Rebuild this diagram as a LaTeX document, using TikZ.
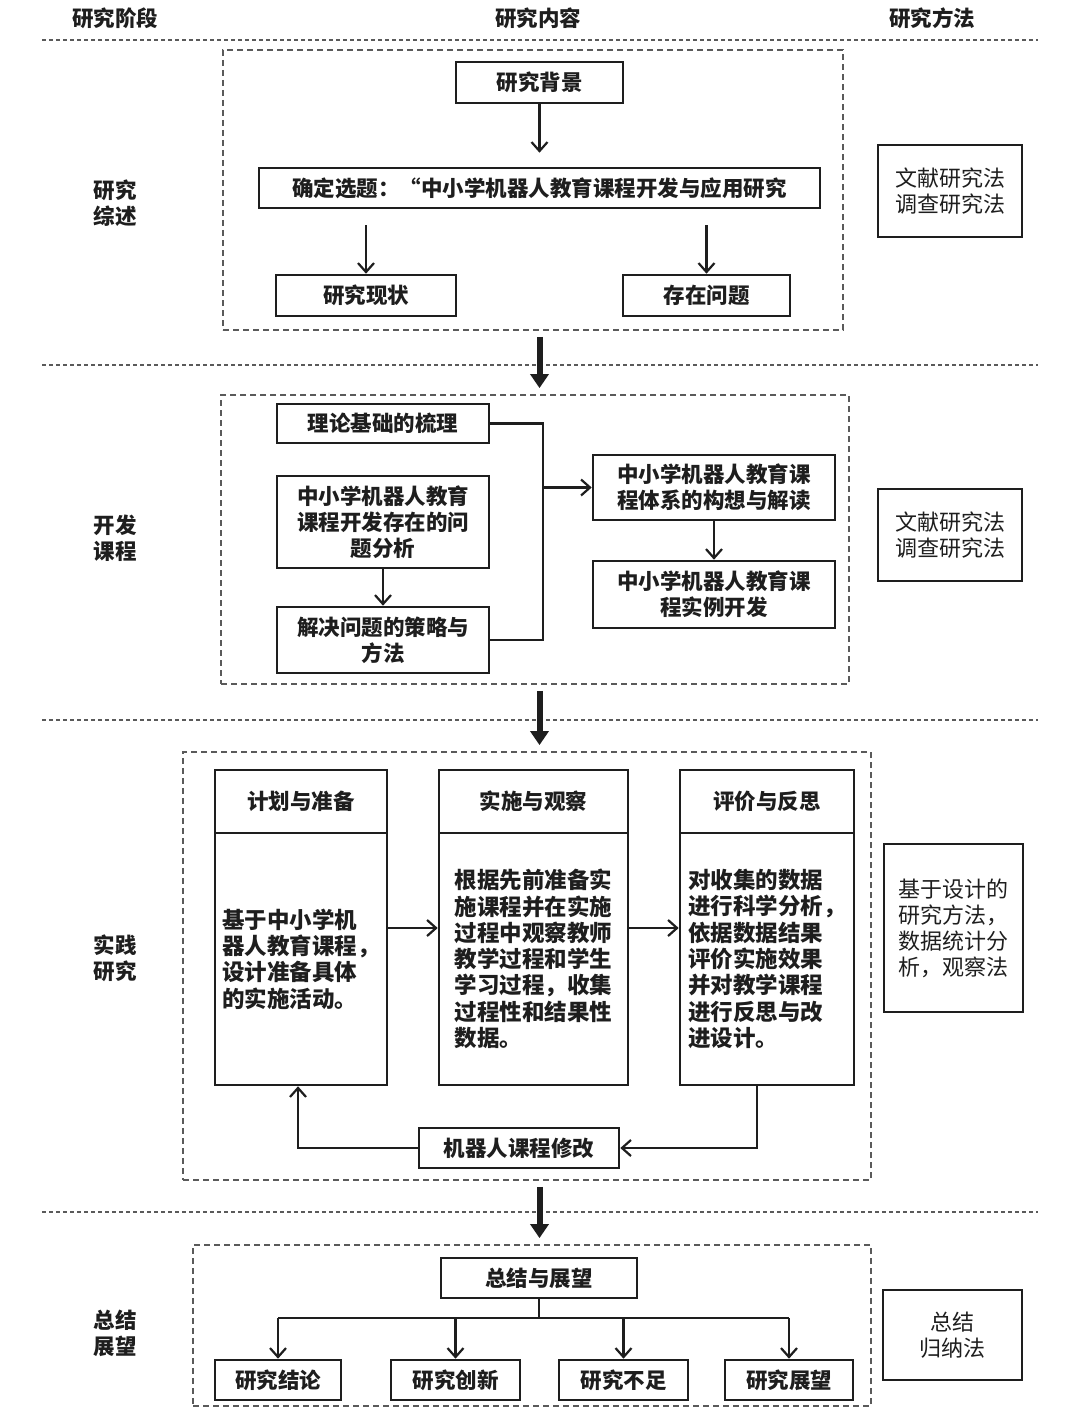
\documentclass[tikz,border=0pt]{standalone}
\usepackage{fontspec}
\setmainfont{Noto Sans CJK SC}
\usetikzlibrary{arrows.meta}
\definecolor{ink}{HTML}{1E1E1E}
\definecolor{frame}{HTML}{5A5A5A}
\tikzset{
  box/.style={draw=ink, line width=2.6pt, inner sep=0pt, align=center, font=\fontsize{21.5}{26}\selectfont\bfseries, text=ink},
  sec/.style={draw=frame, line width=1.8pt, dash pattern=on 6pt off 4pt, inner sep=0pt},
  sep/.style={draw=frame, line width=1.4pt, dash pattern=on 4pt off 3pt},
  arr/.style={draw=ink, line width=2.4pt, -{Straight Barb[length=9pt,width=16pt,line width=2.2pt]}},
  bigarr/.style={draw=ink, line width=6pt, -{Triangle[length=14pt,width=18pt]}},
  conn/.style={draw=ink, line width=2.4pt},
  head/.style={font=\fontsize{21.5}{26}\selectfont\bfseries, text=ink, align=center},
  method/.style={draw=ink, line width=2.4pt, inner sep=0pt, align=center, font=\fontsize{22}{26}\selectfont, text=ink},
  bodytext/.style={font=\fontsize{22.5}{26.3}\selectfont\bfseries, text=ink, align=left},
}
\begin{document}
\begin{tikzpicture}[x=1pt,y=-1pt]
\useasboundingbox[fill=white] (0,0) rectangle (1080,1410);

% headers
\node[head] (h1) at (115,18) {研究阶段};
\node[head] (h2) at (538,18) {研究内容};
\node[head] (h3) at (932,18) {研究方法};
\coordinate (l1a) at (42,40);   \coordinate (l1b) at (1038,40);
\coordinate (l2a) at (42,365);  \coordinate (l2b) at (1038,365);
\coordinate (l3a) at (42,720);  \coordinate (l3b) at (1038,720);
\coordinate (l4a) at (42,1212); \coordinate (l4b) at (1038,1212);
\draw[sep] (l1a) -- (l1b);
\draw[sep] (l2a) -- (l2b);
\draw[sep] (l3a) -- (l3b);
\draw[sep] (l4a) -- (l4b);

% stage labels
\node[head] (st1) at (115,203) {研究\\综述};
\node[head] (st2) at (115,538) {开发\\课程};
\node[head] (st3) at (115,958) {实践\\研究};
\node[head] (st4) at (115,1333) {总结\\展望};

% method boxes
\node[method, minimum width=144, minimum height=92] (m1) at (950,191) {文献研究法\\调查研究法};
\node[method, minimum width=144, minimum height=92] (m2) at (950,535) {文献研究法\\调查研究法};
\node[method, minimum width=139, minimum height=168, align=left] (m3) at (953.5,928) {基于设计的\\研究方法，\\数据统计分\\析，观察法};
\node[method, minimum width=139, minimum height=90] (m4) at (952.5,1335) {总结\\归纳法};

% section frames
\node[sec, minimum width=620, minimum height=280] (s1) at (533,190) {};
\node[sec, minimum width=628, minimum height=289] (s2) at (535,539.5) {};
\node[sec, minimum width=688, minimum height=428] (s3) at (527,966) {};
\node[sec, minimum width=678, minimum height=161] (s4) at (532,1325.5) {};

% section 1
\node[box, minimum width=167, minimum height=41] (bg) at (539.5,82.5) {研究背景};
\node[box, minimum width=561, minimum height=40] (topic) at (539.5,188) {确定选题：“中小学机器人教育课程开发与应用研究};
\node[box, minimum width=180, minimum height=41] (now) at (366,295.5) {研究现状};
\node[box, minimum width=167, minimum height=41] (prob) at (706.5,295.5) {存在问题};
\draw[arr, shorten >=14pt] (bg) -- (topic);
\draw[arr, shorten <=16pt] (topic.south -| now) -- (now.north);
\draw[arr, shorten <=16pt] (topic.south -| prob) -- (prob.north);

% section 2
\node[box, minimum width=212, minimum height=39] (theo) at (383,423.5) {理论基础的梳理};
\node[box, minimum width=212, minimum height=92] (ana) at (383,522) {中小学机器人教育\\课程开发存在的问\\题分析};
\node[box, minimum width=212, minimum height=66] (sol) at (383,640) {解决问题的策略与\\方法};
\node[box, minimum width=242, minimum height=65] (sys) at (714,487.5) {中小学机器人教育课\\程体系的构想与解读};
\node[box, minimum width=242, minimum height=67] (dev) at (714,594.5) {中小学机器人教育课\\程实例开发};
\coordinate (jx) at (543,487.5);
\draw[conn] (theo.east) -| (jx) |- (sol.east);
\draw[arr] (jx) -- (sys.west);
\draw[arr] (ana) -- (sol);
\draw[arr] (sys) -- (dev);

% section 3
\node[box, minimum width=172, minimum height=63] (ah) at (301,801.5) {计划与准备};
\node[box, minimum width=172, minimum height=252] (ab) at (301,959) {};
\node[box, minimum width=189, minimum height=63] (bh) at (533.5,801.5) {实施与观察};
\node[box, minimum width=189, minimum height=252] (bb) at (533.5,959) {};
\node[box, minimum width=174, minimum height=63] (ch) at (767,801.5) {评价与反思};
\node[box, minimum width=174, minimum height=252] (cb) at (767,959) {};
\node[bodytext] (at) at (ab) {基于中小学机\\器人教育课程，\\设计准备具体\\的实施活动。};
\node[bodytext] (bt) at (bb) {根据先前准备实\\施课程并在实施\\过程中观察教师\\教学过程和学生\\学习过程，收集\\过程性和结果性\\数据。};
\node[bodytext] (ct) at (cb) {对收集的数据\\进行科学分析，\\依据数据结果\\评价实施效果\\并对教学课程\\进行反思与改\\进设计。};
\draw[arr] ([yshift=31pt]ab.east) -- ([yshift=31pt]bb.west);
\draw[arr] ([yshift=31pt]bb.east) -- ([yshift=31pt]cb.west);
\node[box, minimum width=200, minimum height=40] (mod) at (519,1148) {机器人课程修改};
\draw[arr] ([xshift=-10pt]cb.south) |- (mod.east);
\draw[arr] (mod.west) -| ([xshift=-3pt]ab.south);

% section 4
\node[box, minimum width=196, minimum height=40] (sum) at (539,1278) {总结与展望};
\node[box, minimum width=126, minimum height=40] (r1) at (278,1380) {研究结论};
\node[box, minimum width=129, minimum height=40] (r2) at (455.5,1380) {研究创新};
\node[box, minimum width=129, minimum height=40] (r3) at (623.5,1380) {研究不足};
\node[box, minimum width=128, minimum height=40] (r4) at (789,1380) {研究展望};
\coordinate (sj) at (539,1318);
\draw[conn] (sum.south) -- (sj);
\draw[conn] (sj -| r1) -- (sj -| r4);
\draw[arr] (sj -| r1) -- (r1.north);
\draw[arr] (sj -| r2) -- (r2.north);
\draw[arr] (sj -| r3) -- (r3.north);
\draw[arr] (sj -| r4) -- (r4.north);

% stage arrows
\draw[bigarr, shorten <=6pt, shorten >=6pt] (s1.south -| bg) -- (s2.north -| bg);
\draw[bigarr, shorten <=6pt, shorten >=6pt] (s2.south -| bg) -- (s3.north -| bg);
\draw[bigarr, shorten <=6pt, shorten >=6pt] (s3.south -| bg) -- (s4.north -| bg);
\end{tikzpicture}
\end{document}
